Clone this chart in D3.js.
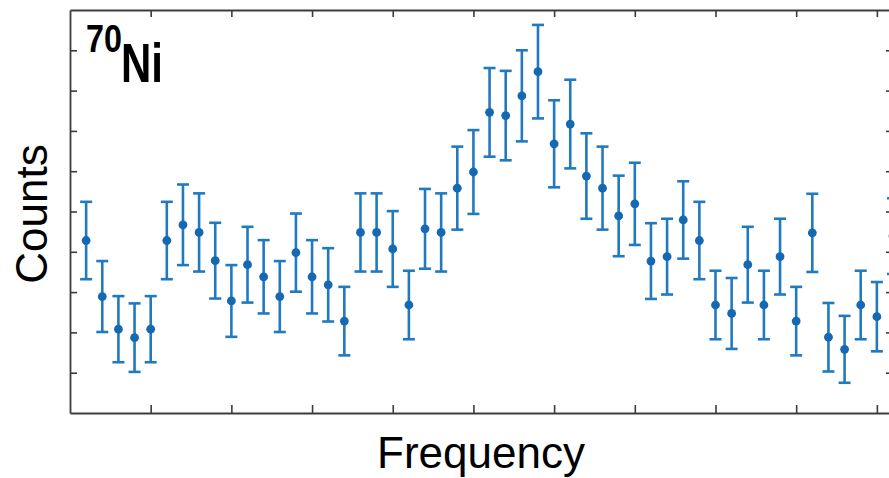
<!DOCTYPE html>
<html>
<head>
<meta charset="utf-8">
<script src="https://cdn.jsdelivr.net/npm/d3@7"></script>
<style>
  body { margin: 0; background: #fff; }
  svg { display: block; }
</style>
</head>
<body>
<div id="chart"></div>
<script>
// canvas size
const width = 889;
const height = 478;

// channel number along the frequency scan
const channel = [1, 2, 3, 4, 5, 6, 7, 8, 9, 10, 11, 12, 13, 14, 15, 16, 17, 18, 19, 20,
  21, 22, 23, 24, 25, 26, 27, 28, 29, 30, 31, 32, 33, 34, 35, 36, 37, 38, 39, 40,
  41, 42, 43, 44, 45, 46, 47, 48, 49, 50, 51];

// counts per channel (arbitrary units)
const counts = [4.28, 2.89, 2.08, 1.87, 2.08, 4.28, 4.67, 4.48, 3.78, 2.78,
  3.68, 3.38, 2.89, 3.98, 3.38, 3.18, 2.28, 4.48, 4.48, 4.07,
  2.68, 4.57, 4.48, 5.58, 5.98, 7.46, 7.38, 7.87, 8.47, 6.68,
  7.17, 5.88, 5.58, 4.89, 5.19, 3.77, 3.88, 4.79, 4.28, 2.68,
  2.47, 3.68, 2.68, 3.88, 2.28, 4.47, 1.88, 1.58, 2.68, 2.39, 4.39];

// error bar half lengths
const errors = [0.96, 0.88, 0.82, 0.85, 0.82, 0.96, 1.00, 0.97, 0.94, 0.89,
  0.94, 0.91, 0.88, 0.97, 0.91, 0.91, 0.85, 0.97, 0.97, 0.94,
  0.85, 0.99, 0.97, 1.03, 1.04, 1.10, 1.11, 1.13, 1.16, 1.08,
  1.10, 1.06, 1.03, 1.00, 1.02, 0.94, 0.94, 0.96, 0.96, 0.85,
  0.88, 0.94, 0.85, 0.94, 0.85, 0.97, 0.85, 0.83, 0.85, 0.86, 0.94];

// tick positions (no labels shown)
const xTicks = [5, 10, 15, 20, 25, 30, 35, 40, 45, 50];
const yTicks = [1, 2, 3, 4, 5, 6, 7, 8, 9];

const plot = { left: 70, right: 893, top: 10, bottom: 413 };
const blue = "#2179c0";
const axisColor = "#3c3c3c";

const svg = d3.select("#chart")
  .append("svg")
  .attr("width", width)
  .attr("height", height)
  .style("background", "#fff");

const x = d3.scaleLinear().domain([0, 51]).range([plot.left, plot.right]);
const y = d3.scaleLinear().domain([0, 10]).range([plot.bottom, plot.top]);

const data = channel.map((c, i) => ({ c: c, v: counts[i], e: errors[i] }));

// error bars
const bars = svg.append("g")
  .attr("stroke", blue)
  .attr("stroke-width", 2.6)
  .attr("fill", "none");

const capHalf = 6;

bars.selectAll("line.stem")
  .data(data)
  .enter()
  .append("line")
  .attr("class", "stem")
  .attr("x1", d => x(d.c))
  .attr("x2", d => x(d.c))
  .attr("y1", d => y(d.v + d.e))
  .attr("y2", d => y(d.v - d.e));

bars.selectAll("line.capTop")
  .data(data)
  .enter()
  .append("line")
  .attr("class", "capTop")
  .attr("x1", d => x(d.c) - capHalf)
  .attr("x2", d => x(d.c) + capHalf)
  .attr("y1", d => y(d.v + d.e))
  .attr("y2", d => y(d.v + d.e));

bars.selectAll("line.capBot")
  .data(data)
  .enter()
  .append("line")
  .attr("class", "capBot")
  .attr("x1", d => x(d.c) - capHalf)
  .attr("x2", d => x(d.c) + capHalf)
  .attr("y1", d => y(d.v - d.e))
  .attr("y2", d => y(d.v - d.e));

// points
svg.append("g")
  .selectAll("circle")
  .data(data)
  .enter()
  .append("circle")
  .attr("cx", d => x(d.c))
  .attr("cy", d => y(d.v))
  .attr("r", 4.4)
  .attr("fill", "#1569b2");

// axes box with inward ticks
const styleAxis = g => {
  g.selectAll("path").attr("stroke", axisColor).attr("stroke-width", 1.8);
  g.selectAll("line").attr("stroke", axisColor).attr("stroke-width", 1.6);
  g.selectAll("text").remove();
};

svg.append("g")
  .attr("transform", `translate(0,${plot.bottom})`)
  .call(d3.axisBottom(x).tickValues(xTicks).tickSizeInner(-8).tickSizeOuter(0).tickFormat(""))
  .call(styleAxis);

svg.append("g")
  .attr("transform", `translate(0,${plot.top})`)
  .call(d3.axisTop(x).tickValues(xTicks).tickSizeInner(-7).tickSizeOuter(0).tickFormat(""))
  .call(styleAxis);

svg.append("g")
  .attr("transform", `translate(${plot.left},0)`)
  .call(d3.axisLeft(y).tickValues(yTicks).tickSizeInner(-7).tickSizeOuter(0).tickFormat(""))
  .call(styleAxis);

svg.append("g")
  .attr("transform", `translate(${plot.right},0)`)
  .call(d3.axisRight(y).tickValues(yTicks).tickSizeInner(-7).tickSizeOuter(0).tickFormat(""))
  .call(styleAxis);

// axis titles
svg.append("text")
  .attr("x", 481)
  .attr("y", 468)
  .attr("text-anchor", "middle")
  .style("font-family", "Liberation Sans, Arial, sans-serif")
  .style("font-size", "44px")
  .attr("fill", "#000")
  .text("Frequency");

svg.append("text")
  .attr("transform", "translate(47,214) rotate(-90)")
  .attr("text-anchor", "middle")
  .style("font-family", "Liberation Sans, Arial, sans-serif")
  .style("font-size", "44px")
  .attr("fill", "#000")
  .text("Counts");

// isotope label, condensed bold
svg.append("text")
  .attr("transform", "translate(86,52) scale(0.85,1)")
  .style("font-family", "Liberation Sans, Arial, sans-serif")
  .style("font-weight", "bold")
  .style("font-size", "38px")
  .attr("fill", "#000")
  .text("70");

svg.append("text")
  .attr("transform", "translate(121,82) scale(0.75,1)")
  .style("font-family", "Liberation Sans, Arial, sans-serif")
  .style("font-weight", "bold")
  .style("font-size", "56px")
  .attr("fill", "#000")
  .text("Ni");
</script>
</body>
</html>
